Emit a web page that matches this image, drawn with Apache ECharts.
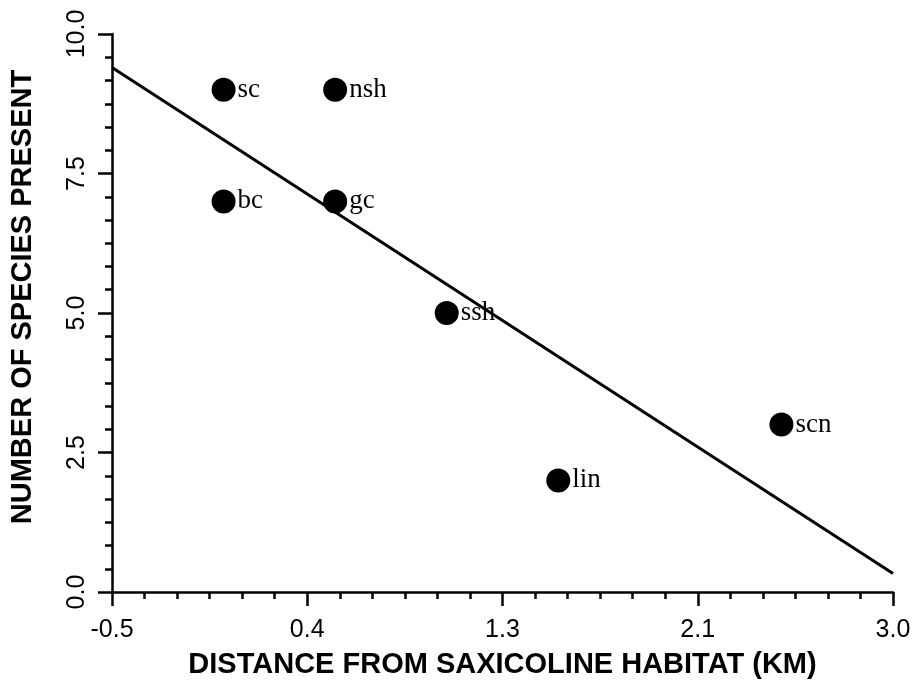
<!DOCTYPE html>
<html>
<head>
<meta charset="utf-8">
<style>html,body{margin:0;padding:0;background:#fff}#c{width:917px;height:685px}</style>
<script src="https://cdn.jsdelivr.net/npm/echarts@6/dist/echarts.min.js"></script>
</head>
<body>
<div id="c"></div>
<script>
var siteNames = ['sc', 'nsh', 'bc', 'gc', 'ssh', 'lin', 'scn'];
var distanceKm = [0.0, 0.5, 0.0, 0.5, 1.0, 1.5, 2.5];
var speciesCount = [9, 9, 7, 7, 5, 2, 3];
var fitLineX = [-0.5, 3.0];
var fitLineY = [9.40, 0.33];
var xTickLabels = ['-0.5', '0.4', '1.3', '2.1', '3.0'];
var yTickLabels = ['0.0', '2.5', '5.0', '7.5', '10.0'];

var points = siteNames.map(function (n, i) { return { name: n, value: [distanceKm[i], speciesCount[i]] }; });
var fit = fitLineX.map(function (x, i) { return [x, fitLineY[i]]; });

var chart = echarts.init(document.getElementById('c'), null, { renderer: 'canvas' });
chart.setOption({
  animation: false,
  backgroundColor: '#fff',
  grid: { left: 111, right: 24, top: 34, bottom: 93, containLabel: false },
  xAxis: {
    type: 'value', min: -0.5, max: 3.0, interval: 0.875,
    name: 'DISTANCE FROM SAXICOLINE HABITAT (KM)',
    nameLocation: 'middle', nameGap: 58,
    nameTextStyle: { fontFamily: 'Liberation Sans', fontWeight: 'bold', fontSize: 29, color: '#000' },
    axisLine: { show: true, onZero: false, lineStyle: { color: '#000', width: 2.5 } },
    axisTick: { show: true, inside: false, length: 14, lineStyle: { color: '#000', width: 2.5 } },
    minorTick: { show: true, splitNumber: 6, length: 7, lineStyle: { color: '#000', width: 2.5 } },
    splitLine: { show: false },
    axisLabel: {
      fontFamily: 'Liberation Sans', fontSize: 25, color: '#000', margin: 26,
      formatter: function (v, i) { return xTickLabels[i]; }
    }
  },
  yAxis: {
    type: 'value', min: 0, max: 10, interval: 2.5,
    name: 'NUMBER OF SPECIES PRESENT',
    nameLocation: 'middle', nameGap: 75,
    nameTextStyle: { fontFamily: 'Liberation Sans', fontWeight: 'bold', fontSize: 29, color: '#000', padding: [0, 0, 0, 32] },
    axisLine: { show: true, onZero: false, lineStyle: { color: '#000', width: 2.5 } },
    axisTick: { show: true, inside: false, length: 14, lineStyle: { color: '#000', width: 2.5 } },
    minorTick: { show: true, splitNumber: 6, length: 7, lineStyle: { color: '#000', width: 2.5 } },
    splitLine: { show: false },
    axisLabel: {
      fontFamily: 'Liberation Sans', fontSize: 25, color: '#000', rotate: 90, margin: 22,
      formatter: function (v, i) { return yTickLabels[i]; }
    }
  },
  series: [
    {
      type: 'line', data: fit, showSymbol: false, symbol: 'none',
      lineStyle: { color: '#000', width: 3 }, z: 2, silent: true
    },
    {
      type: 'scatter', data: points, symbol: 'circle', symbolSize: 24,
      itemStyle: { color: '#000', opacity: 1 }, z: 3,
      label: {
        show: true, position: 'right', distance: 2, formatter: '{b}',
        fontFamily: 'Liberation Serif', fontSize: 27, color: '#000', opacity: 1
      }
    }
  ]
});
</script>
</body>
</html>
